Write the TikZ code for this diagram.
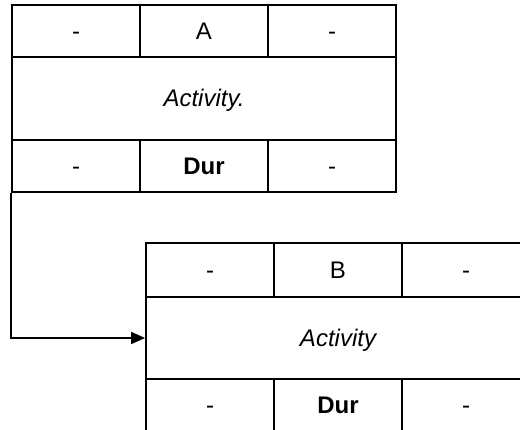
\documentclass[tikz,border=0pt]{standalone}
\usepackage{fontspec}
\setmainfont{Liberation Sans}
\usetikzlibrary{arrows.meta}
\begin{document}
\begin{tikzpicture}[x=1pt,y=-1pt,
  cellfont/.style={font=\fontsize{24}{28}\selectfont,text height=17pt,text depth=0pt},
  cell/.style={draw,line width=1.8pt,minimum width=128pt,inner sep=0pt,cellfont},
  widecell/.style={draw,line width=1.8pt,minimum width=384pt,inner sep=0pt,cellfont,font=\fontsize{24}{28}\selectfont\itshape},
  link/.style={line width=1.6pt,-{Triangle[length=14pt,width=12pt]}}]
\useasboundingbox (0,0) rectangle (520,430);
% Box A
\node[cell,minimum height=52pt] (a1) at (76,31) {-};
\node[cell,minimum height=52pt] (a2) at (204,31) {A};
\node[cell,minimum height=52pt] (a3) at (332,31) {-};
\node[widecell,minimum height=83pt] (am) at (204,98.5) {Activity.};
\node[cell,minimum height=52pt] (a4) at (76,166) {-};
\node[cell,minimum height=52pt] (a5) at (204,166) {\bfseries Dur};
\node[cell,minimum height=52pt] (a6) at (332,166) {-};
% Box B
\node[cell,minimum height=54pt] (b1) at (210,270) {-};
\node[cell,minimum height=54pt] (b2) at (338,270) {B};
\node[cell,minimum height=54pt] (b3) at (466,270) {-};
\node[widecell,minimum height=82pt] (bm) at (338,338) {Activity};
\node[cell,minimum height=52pt] (b4) at (210,405) {-};
\node[cell,minimum height=52pt] (b5) at (338,405) {\bfseries Dur};
\node[cell,minimum height=52pt] (b6) at (466,405) {-};
% connector
\draw[link] (a4.south west) |- (bm.west);
\end{tikzpicture}
\end{document}
